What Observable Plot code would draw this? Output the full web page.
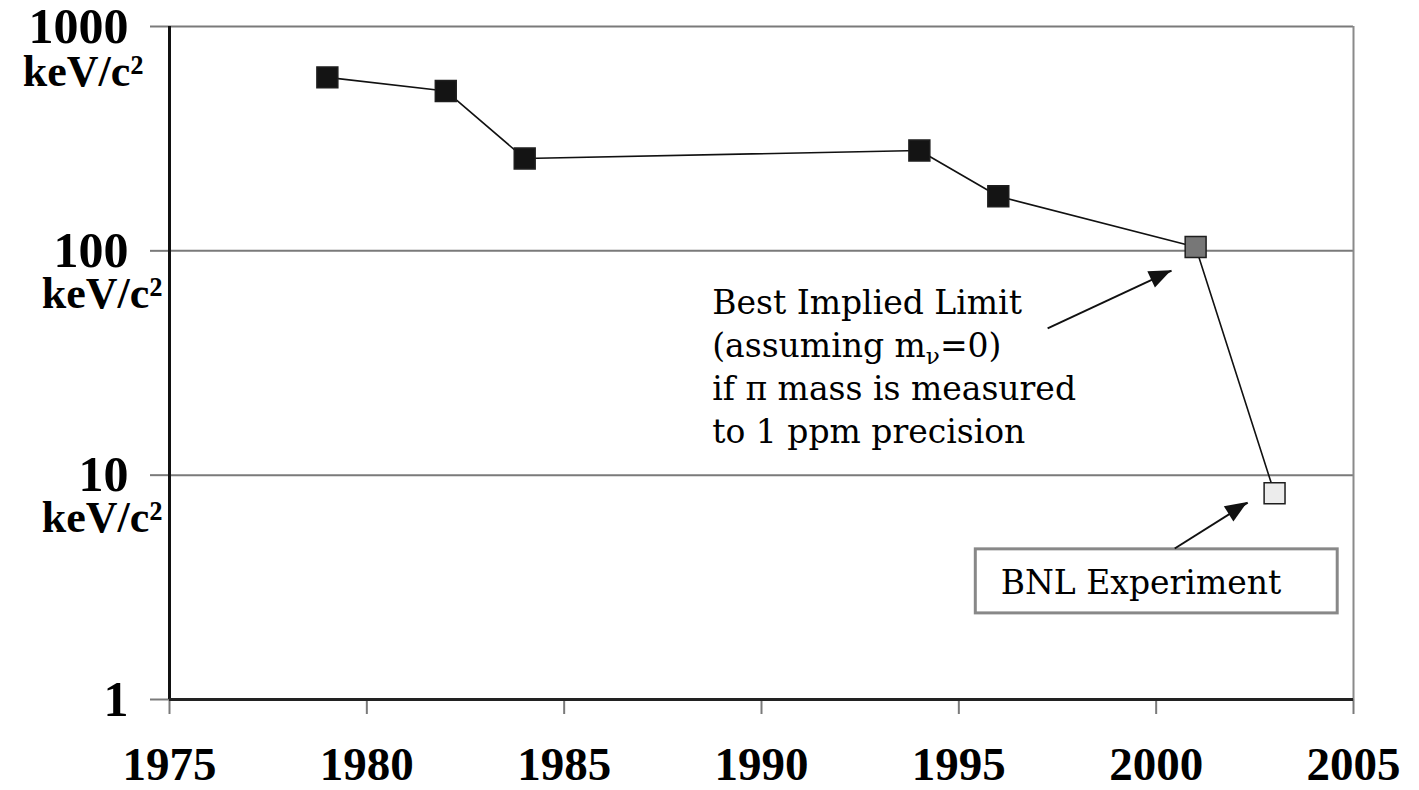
<!DOCTYPE html>
<html>
<head>
<meta charset="utf-8">
<script src="https://cdn.jsdelivr.net/npm/d3@7"></script>
<script src="https://cdn.jsdelivr.net/npm/@observablehq/plot@0.6"></script>
<style>
html, body { margin: 0; padding: 0; background: #fff; }
</style>
</head>
<body>
<div id="chart"></div>
<script>
// ---- data ----
const years = [1979, 1982, 1984, 1994, 1996, 2001, 2003];
const limits = [593, 516, 258, 280, 175, 104, 8.3];
const kinds = ["measured", "measured", "measured", "measured", "measured", "implied", "BNL"];
const kindOrder = ["measured", "implied", "BNL"];
const xTicks = [1975, 1980, 1985, 1990, 1995, 2000, 2005];
const yTicks = [1, 10, 100, 1000];
const unitLabel = "keV/c²";
const annotationText = "Best Implied Limit\n(assuming mν=0)\nif π mass is measured\nto 1 ppm precision";
const boxText = "BNL Experiment";

const points = years.map((year, i) => ({year, limit: limits[i], kind: kinds[i]}));

const serifBold = "'Liberation Serif', 'Times New Roman', serif";
const annFont = "'DejaVu Serif', serif";

const arrows = [
  {x1: 1997.25, y1: 45.1, x2: 2000.39, y2: 81.6},
  {x1: 2000.47, y1: 4.71, x2: 2002.32, y2: 7.55}
];

const chart = Plot.plot({
  width: 1419,
  height: 790,
  marginLeft: 169,
  marginRight: 66,
  marginTop: 26,
  marginBottom: 91,
  style: {background: "#fff", color: "#000", overflow: "visible"},
  x: {domain: [1975, 2005]},
  y: {type: "log", domain: [1, 1000]},
  color: {domain: kindOrder, range: ["#141414", "#777777", "#ececec"]},
  marks: [
    Plot.ruleY(yTicks.filter(d => d > 1), {stroke: "#7a7a7a", strokeWidth: 2}),
    Plot.ruleX([2005], {stroke: "#8a8a8a", strokeWidth: 2}),
    Plot.axisY({
      ticks: yTicks, tickSize: 19, tickPadding: 22, tickFormat: d => String(d),
      stroke: "#7a7a7a", strokeWidth: 2, label: null,
      fontFamily: serifBold, fontWeight: "bold", fontSize: 50
    }),
    Plot.axisX({
      ticks: xTicks, tickSize: 15, tickPadding: 32, tickFormat: d => String(d),
      stroke: "#7a7a7a", strokeWidth: 2, label: null,
      fontFamily: serifBold, fontWeight: "bold", fontSize: 47
    }),
    Plot.text(yTicks.filter(d => d > 1 && d < 1000), {
      y: d => d, frameAnchor: "left", dx: -7, dy: 43, text: () => unitLabel,
      textAnchor: "end", fontFamily: serifBold, fontWeight: "bold", fontSize: 44
    }),
    Plot.text(yTicks.filter(d => d === 1000), {
      y: d => d, frameAnchor: "left", dx: -26, dy: 45, text: () => unitLabel,
      textAnchor: "end", fontFamily: serifBold, fontWeight: "bold", fontSize: 44
    }),
    Plot.ruleX([1975], {stroke: "#111", strokeWidth: 3}),
    Plot.ruleY([1], {stroke: "#222", strokeWidth: 3}),
    Plot.line(points, {x: "year", y: "limit", stroke: "#111", strokeWidth: 1.6}),
    Plot.dot(points, {x: "year", y: "limit", symbol: "square", r: 11.8, fill: "kind", stroke: "#1e1e1e", strokeWidth: 1.5}),
    Plot.text([annotationText], {
      x: () => 1988.75, y: () => 71.5, text: d => d, textAnchor: "start", lineAnchor: "top",
      lineHeight: 1.3, fontFamily: annFont, fontSize: 33, fill: "#000"
    }),
    Plot.rect([boxText], {
      x1: () => 1995.43, x2: () => 2004.6, y1: () => 2.42, y2: () => 4.67,
      fill: "#fff", stroke: "#888", strokeWidth: 3
    }),
    Plot.text([boxText], {
      x: () => 1996.06, y: () => 3.29, text: d => d, textAnchor: "start",
      fontFamily: annFont, fontSize: 33, fill: "#000"
    }),
    Plot.link(arrows, {x1: "x1", y1: "y1", x2: "x2", y2: "y2", stroke: "#111", strokeWidth: 2})
  ]
});

document.getElementById("chart").appendChild(chart);

// filled arrowheads, positioned through the plot's own scales
const sx = chart.scale("x"), sy = chart.scale("y");
const svg = d3.select(chart.tagName.toLowerCase() === "svg" ? chart : chart.querySelector("svg"));
arrows.forEach(a => {
  const px1 = sx.apply(a.x1), py1 = sy.apply(a.y1);
  const px2 = sx.apply(a.x2), py2 = sy.apply(a.y2);
  const ang = Math.atan2(py2 - py1, px2 - px1);
  const L = 22, W = 9;
  const bx = px2 - L * Math.cos(ang), by = py2 - L * Math.sin(ang);
  const nx = -Math.sin(ang), ny = Math.cos(ang);
  svg.append("path")
    .attr("d", `M${px2},${py2}L${bx + W * nx},${by + W * ny}L${bx - W * nx},${by - W * ny}Z`)
    .attr("fill", "#111");
});

// subscript nu
svg.selectAll("tspan").each(function () {
  if (this.textContent === "(assuming mν=0)") {
    const t = d3.select(this);
    t.text(null);
    t.append("tspan").text("(assuming m");
    t.append("tspan").attr("baseline-shift", "-0.3em").attr("font-size", "0.7em").text("ν");
    t.append("tspan").text("=0)");
  }
});
</script>
</body>
</html>
